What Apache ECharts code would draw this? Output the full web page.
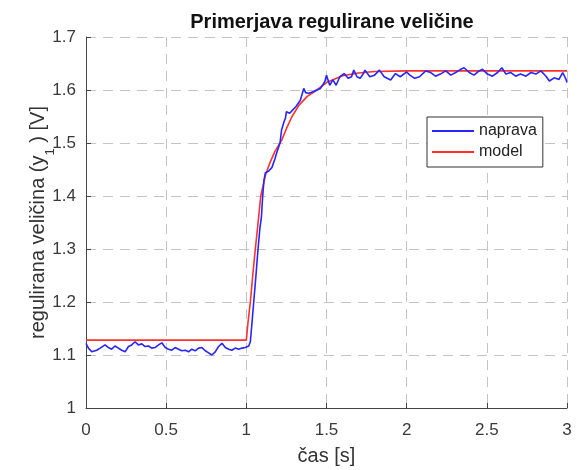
<!DOCTYPE html>
<html>
<head>
<meta charset="utf-8">
<script src="https://cdn.jsdelivr.net/npm/echarts@6/dist/echarts.min.js"></script>
<style>
html,body{margin:0;padding:0;background:#fff;}
#chart{width:577px;height:470px;}
</style>
</head>
<body>
<div id="chart"></div>
<script>
// ---- data ----
const titleText = "Primerjava regulirane veličine";
const xName = "čas [s]";
const xTicks = [0, 0.5, 1, 1.5, 2, 2.5, 3];
const yTicks = [1, 1.1, 1.2, 1.3, 1.4, 1.5, 1.6, 1.7];

const napravaT = [0,0.015,0.036,0.067,0.088,0.119,0.14,0.16,0.181,0.202,0.223,0.244,0.265,0.285,0.306,0.327,0.348,0.369,0.39,0.41,0.431,0.452,0.473,0.494,0.515,0.535,0.556,0.577,0.598,0.619,0.64,0.66,0.681,0.702,0.723,0.744,0.765,0.785,0.806,0.827,0.848,0.869,0.89,0.91,0.931,0.952,0.973,0.994,1.015,1.025,
1.035,1.046,1.06,1.073,1.085,1.094,1.102,1.11,1.119,1.13,1.14,1.16,1.178,1.19,1.21,1.22,1.235,1.244,1.25,1.27,1.29,1.31,1.3375,1.358,1.37,1.39,1.42,1.44,1.4625,1.49,1.5,1.52,1.54,1.56,1.583,1.61,1.635,1.656,1.67,1.69,1.71,1.73,1.74,1.77,1.8,1.83,1.86,1.9,1.93,1.96,2.0,2.02,2.05,2.08,
2.119,2.15,2.18,2.21,2.244,2.275,2.306,2.337,2.358,2.39,2.42,2.452,2.473,2.504,2.535,2.567,2.594,2.619,2.65,2.68,2.71,2.744,2.775,2.806,2.837,2.869,2.89,2.92,2.95,2.973,2.994,3.0];
const napravaV = [1.122,1.113,1.106,1.109,1.113,1.119,1.114,1.111,1.117,1.113,1.109,1.106,1.116,1.119,1.125,1.119,1.121,1.116,1.117,1.113,1.114,1.119,1.123,1.114,1.111,1.109,1.114,1.111,1.108,1.109,1.106,1.111,1.108,1.113,1.114,1.108,1.104,1.100,1.106,1.116,1.122,1.114,1.111,1.109,1.113,1.111,1.113,1.114,1.117,1.125,
1.16,1.2,1.25,1.3,1.34,1.36,1.4,1.43,1.444,1.447,1.447,1.454,1.47,1.482,1.5,1.525,1.54,1.547,1.559,1.556,1.5625,1.569,1.581,1.603,1.595,1.594,1.597,1.6,1.603,1.616,1.628,1.609,1.619,1.609,1.625,1.631,1.622,1.625,1.6375,1.625,1.622,1.631,1.6375,1.625,1.628,1.6375,1.625,1.619,1.631,1.625,1.634,1.628,1.622,1.625,
1.636,1.633,1.626,1.63,1.636,1.628,1.633,1.639,1.642,1.633,1.628,1.636,1.639,1.63,1.626,1.633,1.642,1.63,1.633,1.626,1.63,1.626,1.633,1.63,1.636,1.626,1.617,1.623,1.62,1.633,1.62,1.614];

const modelT = [0,1.0,1.01,1.025,1.04,1.056,1.07,1.09,1.12,1.15,1.18,1.22,1.25,1.285,1.33,1.38,1.44,1.5,1.6,1.7,1.8,2.0,3.0];
const modelV = [1.128,1.128,1.16,1.2,1.25,1.3,1.34,1.4,1.44,1.465,1.485,1.505,1.527,1.55,1.572,1.588,1.6,1.614,1.627,1.632,1.635,1.636,1.636];

const seriesNames = ["naprava", "model"];
const seriesColors = ["#2626ff", "#ff3030"];

const napravaData = napravaT.map((t, i) => [t, napravaV[i]]);
const modelData = modelT.map((t, i) => [t, modelV[i]]);

const chart = echarts.init(document.getElementById('chart'), null, {renderer: 'canvas'});
const FONT = "'Liberation Sans', Arial, sans-serif";
const gridLine = {show: true, lineStyle: {color: '#c4c4c4', type: [10, 7], width: 1}};

chart.setOption({
  animation: false,
  backgroundColor: '#ffffff',
  title: {
    text: titleText,
    left: 327, top: 7, textAlign: 'center',
    textStyle: {fontFamily: FONT, fontSize: 20, fontWeight: 'bold', color: '#111'}
  },
  grid: {left: 86, right: 10, top: 37, bottom: 62, containLabel: false, outerBoundsMode: 'none'},
  legend: {
    orient: 'vertical',
    left: 427, top: 117,
    padding: [6, 6, 7, 5],
    itemGap: 5,
    itemWidth: 42, itemHeight: 2,
    icon: 'rect',
    borderColor: '#333', borderWidth: 1,
    backgroundColor: '#fff',
    textStyle: {fontFamily: FONT, fontSize: 16, color: '#222', lineHeight: 16},
    data: seriesNames
  },
  xAxis: {
    type: 'value', min: xTicks[0], max: xTicks[xTicks.length - 1], interval: 0.5,
    name: xName, nameLocation: 'middle', nameGap: 38, nameMoveOverlap: false,
    nameTextStyle: {fontFamily: FONT, fontSize: 20, color: '#333'},
    axisLine: {show: true, onZero: false, lineStyle: {color: '#444', width: 1}},
    axisTick: {show: true, inside: true, length: 5, lineStyle: {color: '#444'}},
    axisLabel: {fontFamily: FONT, fontSize: 17, color: '#3a3a3a', margin: 14},
    splitLine: gridLine
  },
  yAxis: {
    type: 'value', min: yTicks[0], max: yTicks[yTicks.length - 1], interval: 0.1,
    name: '{a|regulirana veličina (y}{s|1}{a| ) [V]}',
    nameLocation: 'middle', nameGap: 38, nameRotate: 90, nameMoveOverlap: false,
    nameTextStyle: {
      rich: {
        a: {fontFamily: FONT, fontSize: 20, color: '#333'},
        s: {fontFamily: FONT, fontSize: 13, color: '#333', verticalAlign: 'bottom', padding: [0, 0, -9, 0]}
      }
    },
    axisLine: {show: true, onZero: false, lineStyle: {color: '#444', width: 1}},
    axisTick: {show: true, inside: true, length: 5, lineStyle: {color: '#444'}},
    axisLabel: {fontFamily: FONT, fontSize: 17, color: '#3a3a3a', margin: 10,
      formatter: v => String(Math.round(v * 10) / 10)},
    splitLine: gridLine
  },
  series: [
    {name: seriesNames[0], type: 'line', data: napravaData, showSymbol: false,
     lineStyle: {color: seriesColors[0], width: 1.6}, itemStyle: {color: seriesColors[0]}, z: 3},
    {name: seriesNames[1], type: 'line', data: modelData, showSymbol: false,
     lineStyle: {color: seriesColors[1], width: 1.6}, itemStyle: {color: seriesColors[1]}, z: 2}
  ]
});
</script>
</body>
</html>
